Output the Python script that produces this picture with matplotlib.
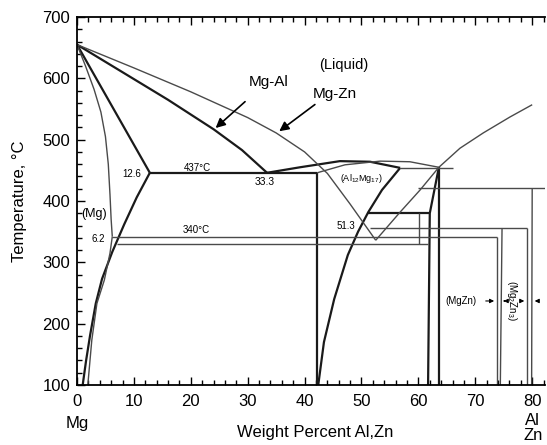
import numpy as np
import matplotlib.pyplot as plt
from matplotlib.ticker import MultipleLocator

plt.rcParams['font.family'] = ['Liberation Sans', 'DejaVu Sans']
plt.rcParams['mathtext.default'] = 'regular'

# ---- Mg-Al (굵은 선) ----
mgal_liq_wt = [0, 8, 16, 24, 29, 33.4]
mgal_liq_t = [655, 610, 565, 517, 483, 446]
mgal_sol_wt = [0, 12.8]
mgal_sol_t = [655, 446]
mgal_solvus_wt = [12.8, 10.5, 8.3, 6.2, 4.4, 3.3, 2.3, 1.6, 1.0]
mgal_solvus_t = [446, 406, 362, 317, 273, 233, 181, 140, 100]
mgal_eut_wt = [12.8, 42.2]          # 437°C 공정선
mgal_eut_t = [446, 446]
gamma_left_wt = [42.2, 42.2]
gamma_left_t = [446, 100]
dome1_wt = [33.4, 39.2, 46.2, 51.5, 56.8]
dome1_t = [446, 455, 465, 464, 454]
dome2_wt = [42.2, 47.1, 53.3, 58.5, 63.6]
dome2_t = [446, 459, 465, 464, 455]
gamma_right_wt = [56.8, 53.6, 51.2, 49.4, 47.6, 45.2, 43.4, 42.4]
gamma_right_t = [454, 418, 382, 350, 312, 240, 170, 100]
h454_wt = [56.8, 66.1]
h454_t = [454, 454]
beta_left_wt = [63.6, 62.0, 61.7]
beta_left_t = [455, 380, 100]
beta_right_wt = [63.6, 63.6]
beta_right_t = [455, 100]
h380_wt = [51.2, 62.0]
h380_t = [380, 380]
v419_wt = [60.1, 60.1]
v419_t = [380, 330]

# ---- Mg-Zn (가는 선) ----
mgzn_liq_wt = [0, 10, 20, 30, 35, 40, 44, 48, 52.5]
mgzn_liq_t = [655, 617, 578, 536, 511, 480, 445, 395, 336]
mgzn_liq2_wt = [52.5, 56.8, 60.3, 63.6, 67.3, 71.4, 76.1, 80.0]
mgzn_liq2_t = [336, 382, 418, 455, 486, 511, 537, 557]
mgzn_sol_wt = [0, 1.5, 3.0, 4.2, 5.0, 5.5, 5.8, 6.0, 6.2]
mgzn_sol_t = [655, 620, 582, 545, 505, 460, 410, 370, 342]
mgzn_solvus_wt = [6.2, 5.8, 4.8, 3.5, 2.6, 1.9]
mgzn_solvus_t = [342, 315, 271, 233, 173, 100]
h340_wt = [6.2, 73.8]
h340_t = [342, 342]
h325_wt = [7.0, 61.7]
h325_t = [330, 330]
h356_wt = [51.5, 79.1]
h356_t = [356, 356]
h421_wt = [59.9, 82.2]
h421_t = [421, 421]
mgzn_l_wt = [73.8, 73.8]
mgzn_l_t = [342, 100]
mgzn_r_wt = [74.7, 74.4]
mgzn_r_t = [356, 100]
mg2zn3_l_wt = [79.1, 79.1]
mg2zn3_l_t = [356, 100]
mg2zn3_r_wt = [80.0, 79.9]
mg2zn3_r_t = [421, 100]

thick = [
    (mgal_liq_wt, mgal_liq_t), (mgal_sol_wt, mgal_sol_t),
    (mgal_solvus_wt, mgal_solvus_t), (mgal_eut_wt, mgal_eut_t),
    (gamma_left_wt, gamma_left_t), (dome1_wt, dome1_t),
    (gamma_right_wt, gamma_right_t), (beta_left_wt, beta_left_t),
    (beta_right_wt, beta_right_t), (h380_wt, h380_t),
]
thin = [
    (dome2_wt, dome2_t), (h454_wt, h454_t), (v419_wt, v419_t),
    (mgzn_liq_wt, mgzn_liq_t), (mgzn_liq2_wt, mgzn_liq2_t),
    (mgzn_sol_wt, mgzn_sol_t), (mgzn_solvus_wt, mgzn_solvus_t),
    (h340_wt, h340_t), (h325_wt, h325_t), (h356_wt, h356_t),
    (h421_wt, h421_t), (mgzn_l_wt, mgzn_l_t), (mgzn_r_wt, mgzn_r_t),
    (mg2zn3_l_wt, mg2zn3_l_t), (mg2zn3_r_wt, mg2zn3_r_t),
]

fig = plt.figure(figsize=(5.47, 4.45), dpi=100)
ax = fig.add_axes([77 / 547, 1 - 385 / 445, 468 / 547, 368 / 445])

for x, y in thick:
    ax.plot(x, y, color='#1a1a1a', lw=1.6, solid_capstyle='butt')
for x, y in thin:
    ax.plot(x, y, color='#4a4a4a', lw=1.0, solid_capstyle='butt')

ax.set_xlim(0, 82.25)
ax.set_ylim(100, 700)
ax.xaxis.set_major_locator(MultipleLocator(10))
ax.xaxis.set_minor_locator(MultipleLocator(2))
ax.yaxis.set_major_locator(MultipleLocator(100))
ax.yaxis.set_minor_locator(MultipleLocator(20))
ax.tick_params(which='both', direction='in', top=True, right=False, width=1.0)
ax.tick_params(which='major', length=6, labelsize=12)
ax.tick_params(which='minor', length=3.5)
ax.tick_params(axis='x', pad=6.5)
ax.tick_params(axis='y', pad=5)
ax.spines['right'].set_visible(False)
for s in ['left', 'top', 'bottom']:
    ax.spines[s].set_linewidth(1.3)

ax.set_xlabel('Weight Percent Al,Zn', fontsize=12)
ax.xaxis.set_label_coords(0.5085, -0.11)
ax.set_ylabel('Temperature, °C', fontsize=12)
ax.yaxis.set_label_coords(-0.107, 0.5)

# 축 아래 원소 표기
ax.text(0, 37.5, 'Mg', ha='center', va='center', fontsize=12, clip_on=False)
ax.text(80.1, 42, 'Al', ha='center', va='center', fontsize=12, clip_on=False)
ax.text(80.1, 18, 'Zn', ha='center', va='center', fontsize=12, clip_on=False)

# 라벨
ax.text(46.9, 622, '(Liquid)', ha='center', va='center', fontsize=10.5)
ax.text(33.6, 594, 'Mg-Al', ha='center', va='center', fontsize=11)
ax.text(45.3, 575, 'Mg-Zn', ha='center', va='center', fontsize=11)
arrow = dict(arrowstyle='-|>', color='k', lw=1.2, mutation_scale=14)
ax.annotate('', xy=(24.0, 516), xytext=(29.9, 565), arrowprops=arrow)
ax.annotate('', xy=(35.15, 511), xytext=(42.2, 560), arrowprops=arrow)

small = 7
ax.text(9.7, 444, '12.6', ha='center', va='center', fontsize=small)
ax.text(21.1, 454, '437°C', ha='center', va='center', fontsize=small)
ax.text(33.0, 431, '33.3', ha='center', va='center', fontsize=7.5)
ax.text(3.0, 379, '(Mg)', ha='center', va='center', fontsize=9)
ax.text(3.7, 338, '6.2', ha='center', va='center', fontsize=small)
ax.text(20.9, 353, '340°C', ha='center', va='center', fontsize=small)
ax.text(47.3, 359, '51.3', ha='center', va='center', fontsize=small)
ax.text(49.9, 436, '(Al$_{12}$Mg$_{17}$)', ha='center', va='center', fontsize=6.5)
ax.text(67.5, 237, '(MgZn)', ha='center', va='center', fontsize=small)
ax.text(76.45, 238, '(Mg$_2$Zn$_3$)', ha='center', va='center', fontsize=small,
        rotation=270)

small_arrow = dict(arrowstyle='-|>', color='k', lw=0.8, mutation_scale=6)
ax.annotate('', xy=(73.8, 237), xytext=(71.35, 237), arrowprops=small_arrow)
ax.annotate('', xy=(74.5, 237), xytext=(75.6, 237), arrowprops=small_arrow)
ax.annotate('', xy=(79.1, 237), xytext=(77.6, 237), arrowprops=small_arrow)
ax.annotate('', xy=(79.95, 237), xytext=(81.6, 237), arrowprops=small_arrow)

fig.savefig('out.png', dpi=100)
